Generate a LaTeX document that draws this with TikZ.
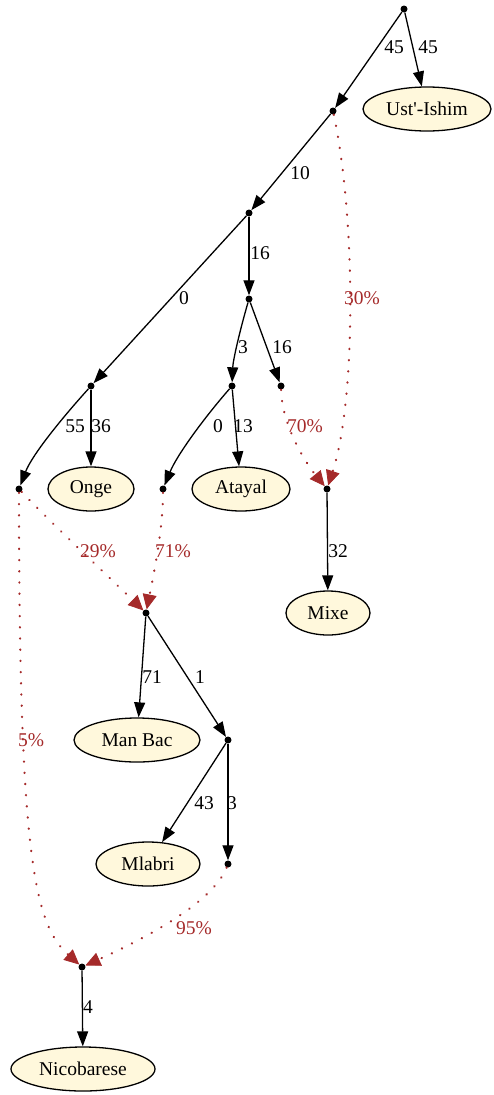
\documentclass[tikz,border=0pt]{standalone}
\usepackage{fontspec}
\setmainfont{Liberation Serif}
\usetikzlibrary{arrows.meta,shapes.geometric}
\definecolor{admix}{HTML}{A52A2A}
\definecolor{leaffill}{HTML}{FFF8DC}
\tikzset{
  pt/.style={circle,fill=black,inner sep=0pt,minimum size=7pt},
  leaf/.style={ellipse,draw,line width=1.3pt,fill=leaffill,inner sep=0pt,minimum height=44pt,
    font=\fontsize{19.5}{22}\selectfont},
  tree/.style={line width=1.3pt,-{Triangle[length=15pt,width=11pt]}},
  mix/.style={admix,line width=2.2pt,dash pattern=on 0.4pt off 10.8pt,line cap=round,
    -{Triangle[length=15pt,width=14pt,fill=admix,line width=0.8pt,line cap=butt]}},
  lab/.style={font=\fontsize{19.5}{22}\selectfont,inner sep=0pt},
  mlab/.style={lab,text=admix}
}
\begin{document}
\begin{tikzpicture}[x=1pt,y=-1pt]
\useasboundingbox (0,0) rectangle (493,1095);

% internal points
\node[pt] (r)   at (404,9) {};
\node[pt] (n1)  at (333,111) {};
\node[pt] (n2)  at (249,213) {};
\node[pt] (n3)  at (249,299) {};
\node[pt] (n4)  at (91,386) {};
\node[pt] (n5)  at (232,386) {};
\node[pt] (n6)  at (281,386) {};
\node[pt] (n7)  at (19,489) {};
\node[pt] (n8)  at (163,489) {};
\node[pt] (n9)  at (327,489) {};
\node[pt] (n10) at (146,613) {};
\node[pt] (n11) at (228,740) {};
\node[pt] (n12) at (228,864) {};
\node[pt] (n13) at (82,967) {};

% populations
\node[leaf,minimum width=128pt] (ust) at (427,109) {Ust\textquotesingle-Ishim};
\node[leaf,minimum width=86pt]  (onge) at (91,489) {Onge};
\node[leaf,minimum width=98pt]  (atayal) at (241,489) {Atayal};
\node[leaf,minimum width=84pt]  (mixe) at (328,613) {Mixe};
\node[leaf,minimum width=126pt] (manbac) at (137,740) {Man Bac};
\node[leaf,minimum width=104pt] (mlabri) at (148,864) {Mlabri};
\node[leaf,minimum width=144pt] (nico) at (83,1069) {Nicobarese};

% drift edges
\draw[tree] (r) -- (n1);
\draw[tree] (r) -- (ust);
\draw[tree] (n1) -- (n2);
\draw[tree] (n2) -- (n4);
\draw[tree] (n2) -- (n3);
\draw[tree] (n3) .. controls (240,330) and (233,360) .. (n5);
\draw[tree] (n3) -- (n6);
\draw[tree] (n4) .. controls (62,418) and (32,455) .. (n7);
\draw[tree] (n4) -- (onge);
\draw[tree] (n5) .. controls (204,418) and (177,455) .. (n8);
\draw[tree] (n5) -- (atayal);
\draw[tree] (n9) -- (mixe);
\draw[tree] (n10) -- (manbac);
\draw[tree] (n10) -- (n11);
\draw[tree] (n11) -- (mlabri);
\draw[tree] (n11) -- (n12);
\draw[tree] (n13) -- (nico);

% admixture edges
\draw[mix] (n1) .. controls (356,220) and (356,400) .. (n9);
\draw[mix] (n6) .. controls (282,425) and (305,462) .. (n9);
\draw[mix] (n7) .. controls (50,522) and (110,578) .. (n10);
\draw[mix] (n8) .. controls (163,530) and (153,578) .. (n10);
\draw[mix] (n7) .. controls (19,860) and (35,925) .. (n13);
\draw[mix] (n12) .. controls (212,905) and (135,943) .. (n13);

% drift labels
\node[lab] (l1)  at (394,47) {45};
\node[lab] (l2)  at (428,47) {45};
\node[lab] (l3)  at (300,173) {10};
\node[lab] (l4)  at (184,298) {0};
\node[lab] (l5)  at (260,253) {16};
\node[lab] (l6)  at (243,347) {3};
\node[lab] (l7)  at (282,347) {16};
\node[lab] (l8)  at (75,426) {55};
\node[lab] (l9)  at (101,426) {36};
\node[lab] (l10) at (218,426) {0};
\node[lab] (l11) at (243,426) {13};
\node[lab] (l12) at (338,551) {32};
\node[lab] (l13) at (152,677) {71};
\node[lab] (l14) at (200,677) {1};
\node[lab] (l15) at (204,803) {43};
\node[lab] (l16) at (232,803) {3};
\node[lab] (l17) at (88,1007) {4};

% admixture weights
\node[mlab] (m1) at (362,298) {30\%};
\node[mlab] (m2) at (305,426) {70\%};
\node[mlab] (m3) at (98,551) {29\%};
\node[mlab] (m4) at (173,551) {71\%};
\node[mlab] (m5) at (31,740) {5\%};
\node[mlab] (m6) at (194,928) {95\%};
\end{tikzpicture}
\end{document}
